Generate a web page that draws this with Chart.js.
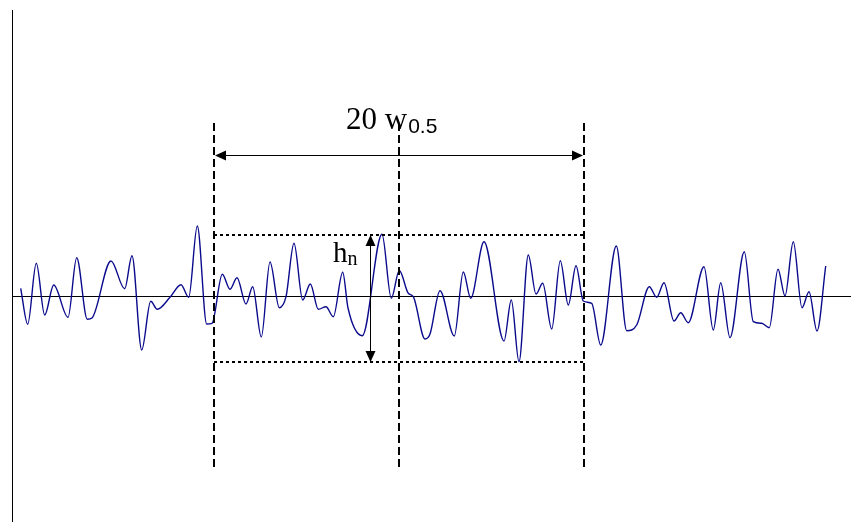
<!DOCTYPE html>
<html>
<head>
<meta charset="utf-8">
<script src="https://cdn.jsdelivr.net/npm/chart.js@4"></script>
<style>
    html, body { margin: 0; padding: 0; background: #fff; }
    #wrap { width: 851px; height: 522px; position: relative; }
</style>
</head>
<body>
<div id="wrap"><canvas id="noiseChart"></canvas></div>
<script>
// noise trace: time positions and signal values (extrema)
const timeValues = [
    20.7, 27.7, 36.3, 44.7, 53.7, 68, 76.7, 87.3, 92, 111, 124.7, 132, 141.7, 150.7, 157.3, 170, 181, 188.7, 197.3, 206.7, 212,
    222.3, 230, 237, 246, 252.7, 261.3, 270, 279.3, 286, 294, 302.7, 310.3, 318.3, 326, 333.3, 342.7, 348, 362.3,
    382, 391.3, 399.3, 408.3, 413.3, 425, 430, 440, 454.3, 463.3, 470.7, 484, 504, 511.3, 519, 528.3, 536, 542.7,
    551.7, 560.3, 568.3, 576, 583.3, 591.7, 600.7, 616.3, 626.7, 636.7, 649.3, 656.7, 664, 674, 680.7, 688.3,
    704, 713.3, 720.7, 730, 744.3, 753.3, 761.7, 769.3, 778, 785, 793.3, 802, 809, 817, 825.7
];
const signalValues = [
    7.7, -28.3, 32.7, -19, 11, -21.3, 38.3, -23.3, -22, 35, 7.3, 40.3, -54, -5.3, -13.3, -1.3, 11.3, -1.3, 70, -28, -27.3,
    21.7, 6.7, 18.3, -8, 9.3, -41, 34, -11.7, -0.7, 52.7, -4, 12, -13.3, -10.7, -20.7, 23.7, -12, -39.7,
    61.7, -2.3, 25.5, 2.7, -0.7, -43, -38, 5.3, -40, 24, -2.3, 54.3, -45, -4, -65.7, 41, 2, 12.7,
    -33, 35.3, -9, 30.3, -5, -7.3, -49, 50, -34.7, -29, 9.3, -1.3, 13.3, -25, -16.7, -26.7,
    29.3, -34, 13.3, -41.7, 44.3, -25.7, -27.3, -31.7, 26.7, 0, 54.3, -11.7, 4.3, -35, 30
];

// measurement window (in data units)
const windowEdges = [214, 399, 584];
const noiseBand = [61, -66];
const windowLabel = ["20 w", "0.5"];
const noiseLabel = ["h", "n"];

const X_MIN = 0, X_MAX = 851, Y_MIN = -226, Y_MAX = 296;

const ink = "#000";
const traceColor = "#0a0a8c";

function arrowHead(ctx, x, y, dir) {
    // dir: unit vector pointing where the tip points
    const len = 11, half = 5;
    const px = -dir[1], py = dir[0];
    ctx.beginPath();
    ctx.moveTo(x, y);
    ctx.lineTo(x - dir[0] * len + px * half, y - dir[1] * len + py * half);
    ctx.lineTo(x - dir[0] * len - px * half, y - dir[1] * len - py * half);
    ctx.closePath();
    ctx.fill();
}

const annotations = {
    id: "annotations",
    beforeDatasetsDraw(chart) {
        const { ctx, scales: { x, y } } = chart;
        ctx.save();
        ctx.strokeStyle = ink;
        ctx.lineWidth = 1;
        // left axis
        ctx.beginPath();
        ctx.moveTo(x.getPixelForValue(12) + 0.5, y.getPixelForValue(286));
        ctx.lineTo(x.getPixelForValue(12) + 0.5, y.getPixelForValue(Y_MIN));
        ctx.stroke();
        // baseline
        ctx.beginPath();
        ctx.moveTo(x.getPixelForValue(12), y.getPixelForValue(0) + 0.5);
        ctx.lineTo(x.getPixelForValue(X_MAX), y.getPixelForValue(0) + 0.5);
        ctx.stroke();
        ctx.restore();
    },
    afterDatasetsDraw(chart) {
        const { ctx, scales: { x, y } } = chart;
        ctx.save();
        ctx.strokeStyle = ink;
        ctx.fillStyle = ink;

        // dashed window edges
        ctx.lineWidth = 2;
        ctx.setLineDash([8, 4]);
        windowEdges.forEach(v => {
            const px = Math.round(x.getPixelForValue(v));
            ctx.beginPath();
            ctx.moveTo(px, y.getPixelForValue(173));
            ctx.lineTo(px, y.getPixelForValue(-172));
            ctx.stroke();
        });

        // dotted noise band
        ctx.setLineDash([3, 3]);
        noiseBand.forEach(v => {
            const py = Math.round(y.getPixelForValue(v));
            ctx.beginPath();
            ctx.moveTo(x.getPixelForValue(windowEdges[0]), py);
            ctx.lineTo(x.getPixelForValue(windowEdges[2]), py);
            ctx.stroke();
        });
        ctx.setLineDash([]);

        // horizontal double arrow
        const ay = y.getPixelForValue(141) + 0.5;
        const ax1 = x.getPixelForValue(windowEdges[0]) + 1;
        const ax2 = x.getPixelForValue(windowEdges[2]) - 1;
        ctx.lineWidth = 1;
        ctx.beginPath();
        ctx.moveTo(ax1 + 6, ay);
        ctx.lineTo(ax2 - 6, ay);
        ctx.stroke();
        arrowHead(ctx, ax1, ay, [-1, 0]);
        arrowHead(ctx, ax2, ay, [1, 0]);

        // vertical double arrow
        const vx = x.getPixelForValue(370) + 0.5;
        const vy1 = y.getPixelForValue(noiseBand[0]);
        const vy2 = y.getPixelForValue(noiseBand[1]);
        ctx.beginPath();
        ctx.moveTo(vx, vy1 + 6);
        ctx.lineTo(vx, vy2 - 6);
        ctx.stroke();
        arrowHead(ctx, vx, vy1, [0, -1]);
        arrowHead(ctx, vx, vy2, [0, 1]);

        // labels
        ctx.textBaseline = "alphabetic";
        ctx.textAlign = "left";
        let tx = x.getPixelForValue(346), ty = y.getPixelForValue(167);
        ctx.font = "31px 'Liberation Serif', serif";
        ctx.fillText(windowLabel[0], tx, ty);
        tx += ctx.measureText(windowLabel[0]).width;
        ctx.font = "21px 'Liberation Sans', sans-serif";
        ctx.fillText(windowLabel[1], tx + 1, ty + 4);

        tx = x.getPixelForValue(333); ty = y.getPixelForValue(34);
        ctx.font = "29px 'Liberation Serif', serif";
        ctx.fillText(noiseLabel[0], tx, ty);
        tx += ctx.measureText(noiseLabel[0]).width;
        ctx.font = "20px 'Liberation Serif', serif";
        ctx.fillText(noiseLabel[1], tx, ty + 3);
        ctx.restore();
    }
};

new Chart(document.getElementById("noiseChart"), {
    type: "line",
    data: {
        datasets: [{
            data: timeValues.map((t, i) => ({ x: t, y: signalValues[i] })),
            borderColor: traceColor,
            borderWidth: 1.4,
            pointRadius: 0,
            fill: false,
            cubicInterpolationMode: "monotone"
        }]
    },
    options: {
        responsive: true,
        maintainAspectRatio: false,
        animation: false,
        layout: { padding: 0 },
        plugins: { legend: { display: false }, tooltip: { enabled: false } },
        scales: {
            x: { type: "linear", min: X_MIN, max: X_MAX, display: false },
            y: { type: "linear", min: Y_MIN, max: Y_MAX, display: false }
        }
    },
    plugins: [annotations]
});
</script>
</body>
</html>
